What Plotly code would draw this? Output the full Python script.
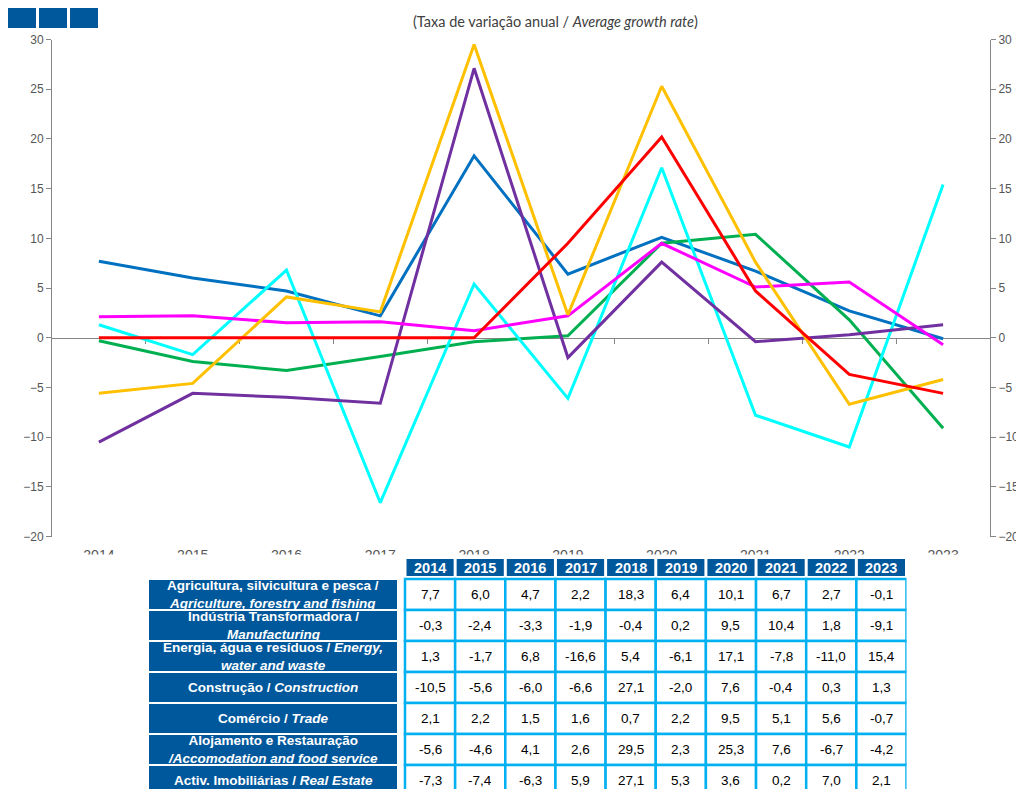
import plotly.graph_objects as go

# --- data -------------------------------------------------------------
years = [2014, 2015, 2016, 2017, 2018, 2019, 2020, 2021, 2022, 2023]

agricultura = [7.7, 6.0, 4.7, 2.2, 18.3, 6.4, 10.1, 6.7, 2.7, -0.1]
industria = [-0.3, -2.4, -3.3, -1.9, -0.4, 0.2, 9.5, 10.4, 1.8, -9.1]
energia = [1.3, -1.7, 6.8, -16.6, 5.4, -6.1, 17.1, -7.8, -11.0, 15.4]
construcao = [-10.5, -5.6, -6.0, -6.6, 27.1, -2.0, 7.6, -0.4, 0.3, 1.3]
comercio = [2.1, 2.2, 1.5, 1.6, 0.7, 2.2, 9.5, 5.1, 5.6, -0.7]
alojamento = [-5.6, -4.6, 4.1, 2.6, 29.5, 2.3, 25.3, 7.6, -6.7, -4.2]
imobiliarias = [-7.3, -7.4, -6.3, 5.9, 27.1, 5.3, 3.6, 0.2, 7.0, 2.1]
# red line of the chart (its table row is not visible)
outra_serie = [0.0, 0.0, 0.0, 0.0, 0.0, 9.5, 20.2, 4.7, -3.7, -5.6]

row_labels = [
    "<b>Agricultura, silvicultura e pesca /</b><br><b><i>Agriculture, forestry and fishing</i></b>",
    "<b>Indústria Transformadora /</b><br><b><i>Manufacturing</i></b>",
    "<b>Energia, água e resíduos / <i>Energy,</i></b><br><b><i>water and waste</i></b>",
    "<b>Construção / <i>Construction</i></b>",
    "<b>Comércio / <i>Trade</i></b>",
    "<b>Alojamento e Restauração</b><br><b><i>/Accomodation and food service</i></b>",
    "<b>Activ. Imobiliárias / <i>Real Estate</i></b>",
]
table_rows = [agricultura, industria, energia, construcao, comercio, alojamento, imobiliarias]

# --- style ------------------------------------------------------------
cols = {
    'blue': '#0070C0',
    'green': '#00B050',
    'cyan': '#00FFFF',
    'purple': '#7030A0',
    'magenta': '#FF00FF',
    'yellow': '#FFC000',
    'red': '#FF0000',
    'navy': '#00589C',
    'border': '#00B0F0',
    'axis': '#868686',
    'text': '#555555',
}

# page is 1024x789, the html body keeps an 8px margin
OFF = 8
FW, FH = 1024 - OFF, 789 - OFF
font_fam = "Arial, Liberation Sans, sans-serif"


def px_x(x):
    return (x - OFF) / FW


def px_y(y):
    return 1 - (y - OFF) / FH


# table grid units: value columns centred on 0..9, rows centred on 0..6
COL_W = 50.15
ROW_H = 31.0
TAB_LEFT, VAL_LEFT, TAB_RIGHT = 148, 405, 906.5
TAB_TOP, ROW_TOP = 555, 579


def col_u(x):
    return (x - VAL_LEFT) / COL_W - 0.5


def row_u(y):
    return (y - ROW_TOP) / ROW_H - 0.5


LABEL_L, LABEL_R = col_u(TAB_LEFT), col_u(398)
HDR_TOP, HDR_BOT = row_u(559), row_u(576)

line_series = [
    (agricultura, cols['blue']),
    (industria, cols['green']),
    (energia, cols['cyan']),
    (construcao, cols['purple']),
    (comercio, cols['magenta']),
    (alojamento, cols['yellow']),
]

fig = go.Figure()

for vals, col in line_series:
    fig.add_trace(
        go.Scatter(x=years, y=vals, mode='lines',
                   line=dict(color=col, width=3),
                   showlegend=False, hoverinfo='skip')
    )

# red line sits on the overlay axes (bottom labels / right scale)
fig.add_trace(
    go.Scatter(x=years, y=outra_serie, mode='lines',
               line=dict(color=cols['red'], width=3),
               xaxis='x2', yaxis='y2',
               showlegend=False, hoverinfo='skip')
)

# empty trace so the table grid axes exist
fig.add_trace(go.Scatter(x=[], y=[], xaxis='x3', yaxis='y3', showlegend=False))

y_dom = [px_y(536.5), px_y(39.5)]
zero_pos = y_dom[0] + 0.4 * (y_dom[1] - y_dom[0])
x_dom = [px_x(52), px_x(990)]
x_rng = [years[0] - 0.5, years[-1] + 0.5]
boundaries = [y + 0.5 for y in years[:-1]]

tickfont = dict(color=cols['text'], size=12, family=font_fam)
y_common = dict(
    domain=y_dom, range=[-20, 30], dtick=5,
    showline=True, linecolor=cols['axis'],
    ticks='outside', ticklen=5, tickcolor=cols['axis'],
    tickfont=tickfont, showgrid=False, zeroline=False, automargin=False,
)

fig.update_layout(
    width=FW,
    height=FH,
    margin=dict(l=0, r=0, t=0, b=0, autoexpand=False),
    plot_bgcolor='rgba(0,0,0,0)',
    paper_bgcolor='white',
    xaxis=dict(
        domain=x_dom, range=x_rng,
        anchor='free', position=zero_pos,
        showline=True, linecolor=cols['axis'], linewidth=1,
        tickvals=boundaries, ticks='outside', ticklen=5, tickcolor=cols['axis'],
        showticklabels=False, showgrid=False, zeroline=False,
        layer='below traces', automargin=False,
    ),
    xaxis2=dict(
        domain=x_dom, range=x_rng,
        overlaying='x', anchor='y2', side='bottom',
        tickvals=years, ticks='outside', ticklen=6, tickcolor='rgba(0,0,0,0)',
        tickfont=dict(tickfont, size=14), showline=False, showgrid=False,
        zeroline=False, automargin=False,
    ),
    yaxis=y_common,
    yaxis2=dict(y_common, overlaying='y', side='right', anchor='free',
                position=x_dom[1]),
    xaxis3=dict(domain=[px_x(TAB_LEFT), px_x(TAB_RIGHT)],
                range=[LABEL_L, col_u(TAB_RIGHT)], anchor='y3',
                visible=False, fixedrange=True, automargin=False),
    yaxis3=dict(domain=[0, px_y(TAB_TOP)],
                range=[row_u(OFF + FH), row_u(TAB_TOP)], anchor='x3',
                visible=False, fixedrange=True, automargin=False),
)

shapes = []
annotations = [
    dict(text="(Taxa de variação anual / <i>Average growth rate</i>)",
         x=px_x(555), y=px_y(22), xref='paper', yref='paper',
         showarrow=False, xanchor='center', yanchor='middle',
         font=dict(color='#404040', size=14.5, family="Lato, sans-serif")),
]

# decorative squares top-left
for x0 in [8, 39, 70]:
    shapes.append(dict(type='rect', xref='paper', yref='paper',
                       x0=px_x(x0), x1=px_x(x0 + 28), y0=px_y(28), y1=px_y(5),
                       fillcolor=cols['navy'], line=dict(width=0), layer='above'))

# white band that hides the lower half of the year labels
shapes.append(dict(type='rect', xref='paper', yref='paper',
                   x0=0, x1=1, y0=px_y(570), y1=px_y(554.5),
                   fillcolor='white', line=dict(width=0), layer='above'))

# table header
for i, yr in enumerate(years):
    shapes.append(dict(type='rect', xref='x3', yref='y3',
                       x0=i - 0.47, x1=i + 0.47, y0=HDR_TOP, y1=HDR_BOT,
                       fillcolor=cols['navy'], line=dict(width=0), layer='above'))
    annotations.append(dict(text=f"<b>{yr}</b>", x=i, y=(HDR_TOP + HDR_BOT) / 2,
                            xref='x3', yref='y3', showarrow=False,
                            font=dict(color='white', size=14.5, family=font_fam)))

# table body
for j, (label, row) in enumerate(zip(row_labels, table_rows)):
    shapes.append(dict(type='rect', xref='x3', yref='y3',
                       x0=LABEL_L, x1=LABEL_R, y0=j - 0.5, y1=j + 0.5,
                       fillcolor=cols['navy'], line=dict(color='white', width=2),
                       layer='above'))
    annotations.append(dict(text=label, x=(LABEL_L + LABEL_R) / 2, y=j,
                            xref='x3', yref='y3', showarrow=False,
                            font=dict(color='white', size=13.5, family=font_fam)))
    for i, v in enumerate(row):
        shapes.append(dict(type='rect', xref='x3', yref='y3',
                           x0=i - 0.5, x1=i + 0.5, y0=j - 0.5, y1=j + 0.5,
                           fillcolor='white', line=dict(color=cols['border'], width=2.5),
                           layer='above'))
        annotations.append(dict(text=f"{v:.1f}".replace('.', ','), x=i, y=j,
                                xref='x3', yref='y3', showarrow=False,
                                font=dict(color='black', size=13.5, family=font_fam)))

fig.update_layout(shapes=shapes, annotations=annotations)

fig.write_html("out.html")
